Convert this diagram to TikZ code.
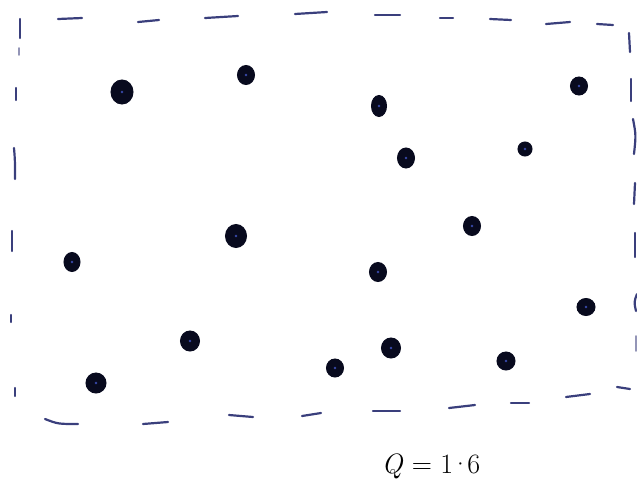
\documentclass[tikz,border=0pt]{standalone}
\usepackage{fontspec}
\definecolor{ink}{HTML}{080A1E}
\definecolor{dashink}{HTML}{3A3F7C}
\definecolor{glint}{HTML}{3848A8}
\tikzset{
  inkdash/.style={draw=dashink, line width=2.2pt, line cap=round},
  faintdash/.style={draw=dashink!55, line width=1.8pt, line cap=round},
  inkdot/.style={fill=ink, draw=ink, line width=1pt},
  glintdot/.style={fill=glint}
}
\newcommand{\inkspot}[4]{%
  \filldraw[inkdot] (#1,#2) ellipse [x radius=#3, y radius=#4];
  \fill[glintdot] (#1,#2) circle [radius=1.4];
}
\begin{document}
\begin{tikzpicture}[x=1pt,y=-1pt]
\useasboundingbox (0,0) rectangle (637,483);
% top border
\draw[inkdash] (58,19) -- (82,18);
\draw[inkdash] (138,22) -- (159,20);
\draw[inkdash] (205,18) -- (238,16);
\draw[inkdash] (295,14) -- (327,12);
\draw[inkdash] (375,15) -- (400,15);
\draw[inkdash] (440,18) -- (453,18);
\draw[inkdash] (490,19) -- (511,20);
\draw[inkdash] (546,24) -- (570,22);
\draw[inkdash] (597,24) -- (613,25);
% left border
\draw[inkdash] (20,19) -- (20,38);
\draw[faintdash] (19,48) -- (19,55);
\draw[inkdash] (16,88) -- (16,100);
\draw[inkdash] (14,148) .. controls (15,160) .. (15,179);
\draw[inkdash] (12,231) -- (12,251);
\draw[inkdash] (11,315) -- (11,322);
\draw[inkdash] (15,388) -- (15,396);
% right border
\draw[inkdash] (629,33) -- (630,52);
\draw[inkdash] (631,79) -- (631,101);
\draw[inkdash] (633,119) .. controls (636,135) .. (634,154);
\draw[inkdash] (635,183) -- (634,204);
\draw[inkdash] (635,233) -- (635,257);
\draw[inkdash] (637,294) .. controls (634,302) .. (636,311);
\draw[faintdash] (636,336) -- (636,351);
% bottom border
\draw[inkdash] (45,419) .. controls (58,424) .. (78,424);
\draw[inkdash] (143,424) -- (168,422);
\draw[inkdash] (229,415) -- (253,417);
\draw[inkdash] (302,416) -- (321,413);
\draw[inkdash] (373,411) -- (400,411);
\draw[inkdash] (449,408) -- (475,405);
\draw[inkdash] (511,403) -- (529,403);
\draw[inkdash] (566,397) -- (590,394);
\draw[inkdash] (617,387) -- (630,389);
% dots
\inkspot{122}{92}{11}{12}
\inkspot{246}{75}{8.5}{9.5}
\inkspot{379}{106}{7.5}{10.5}
\inkspot{579}{86}{8.5}{9}
\inkspot{406}{158}{8.5}{10}
\inkspot{525}{149}{7}{7}
\inkspot{236}{236}{10.5}{11.5}
\inkspot{472}{226}{8.5}{9.5}
\inkspot{72}{262}{8}{9.5}
\inkspot{378}{272}{8.5}{9.5}
\inkspot{586}{307}{9}{8.5}
\inkspot{190}{341}{9.5}{10}
\inkspot{335}{368}{8.5}{9}
\inkspot{391}{348}{9.5}{10}
\inkspot{506}{361}{9}{9}
\inkspot{96}{383}{10}{10}
% label
\node[text=black, inner sep=0pt, font=\fontsize{28}{30}\selectfont] (qlabel) at (431,466) {\textit{Q} = 1\kern-3pt·\kern-3pt6};
\end{tikzpicture}
\end{document}
